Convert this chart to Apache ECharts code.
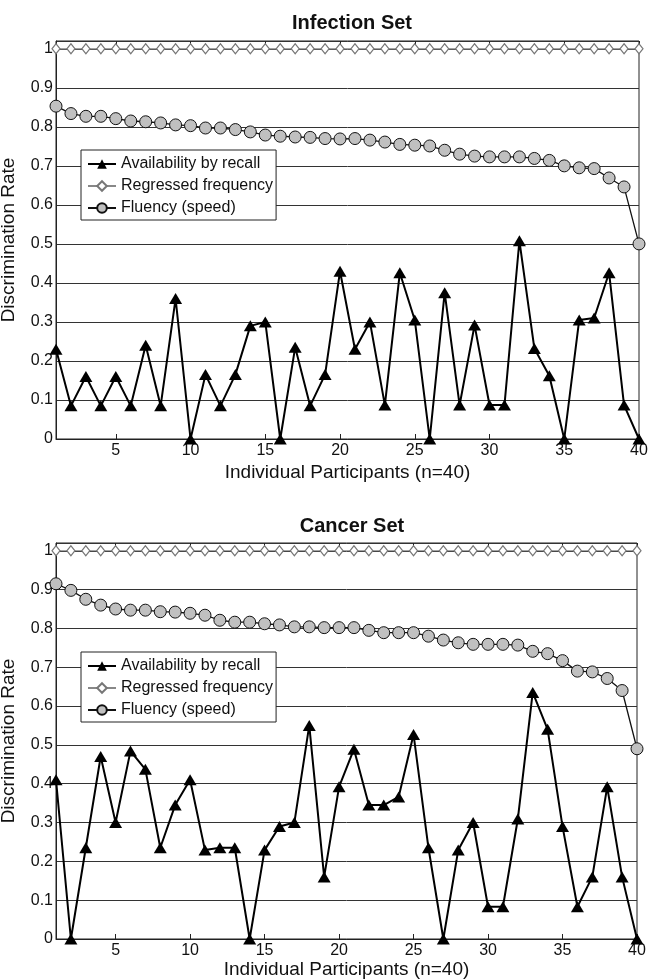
<!DOCTYPE html>
<html>
<head>
<meta charset="utf-8">
<script src="https://cdn.jsdelivr.net/npm/echarts@6/dist/echarts.min.js"></script>
<style>
html,body{margin:0;padding:0;background:#fff;}
#chart{width:648px;height:979px;}
</style>
</head>
<body>
<div id="chart"></div>
<script>
// ---- data ----
const participants = [1,2,3,4,5,6,7,8,9,10,11,12,13,14,15,16,17,18,19,20,21,22,23,24,25,26,27,28,29,30,31,32,33,34,35,36,37,38,39,40];
const xTickValues = [5,10,15,20,25,30,35,40];
const seriesNames = ['Availability by recall','Regressed frequency','Fluency (speed)'];
const titles = ['Infection Set','Cancer Set'];

const infectionRecall = [0.23,0.085,0.16,0.085,0.16,0.085,0.24,0.085,0.36,0,
  0.165,0.085,0.165,0.29,0.30,0,0.235,0.085,0.165,0.43,
  0.23,0.30,0.087,0.426,0.305,0,0.375,0.087,0.292,0.087,
  0.087,0.508,0.232,0.162,0,0.305,0.31,0.426,0.087,0];
const infectionRegressed = [1,1,1,1,1,1,1,1,1,1,1,1,1,1,1,1,1,1,1,1,1,1,1,1,1,1,1,1,1,1,1,1,1,1,1,1,1,1,1,1];
const infectionFluency = [0.853,0.834,0.827,0.827,0.821,0.815,0.813,0.81,0.805,0.803,
  0.797,0.797,0.793,0.787,0.779,0.776,0.774,0.773,0.77,0.769,
  0.77,0.766,0.761,0.755,0.753,0.751,0.74,0.73,0.725,0.723,
  0.723,0.723,0.719,0.714,0.70,0.695,0.693,0.669,0.646,0.50];

const cancerRecall = [0.41,0,0.235,0.47,0.30,0.484,0.437,0.235,0.345,0.41,
  0.229,0.235,0.235,0,0.229,0.29,0.30,0.55,0.16,0.392,
  0.489,0.345,0.345,0.366,0.527,0.235,0,0.229,0.30,0.083,
  0.083,0.309,0.635,0.54,0.29,0.083,0.16,0.392,0.16,0];
const cancerRegressed = [1,1,1,1,1,1,1,1,1,1,1,1,1,1,1,1,1,1,1,1,1,1,1,1,1,1,1,1,1,1,1,1,1,1,1,1,1,1,1,1];
const cancerFluency = [0.915,0.898,0.875,0.86,0.85,0.847,0.847,0.843,0.842,0.839,
  0.834,0.821,0.816,0.816,0.812,0.809,0.804,0.804,0.802,0.802,
  0.802,0.795,0.789,0.789,0.789,0.78,0.77,0.763,0.759,0.759,
  0.759,0.757,0.741,0.735,0.717,0.69,0.688,0.671,0.64,0.49];

const panels = [
  {recall: infectionRecall, regressed: infectionRegressed, fluency: infectionFluency},
  {recall: cancerRecall, regressed: cancerRegressed, fluency: cancerFluency}
];

// ---- layout ----
const FONT = "'Liberation Sans', Arial, Helvetica, sans-serif";
const grids = [
  {left: 56, top: 41, width: 583, height: 398},
  {left: 56, top: 543, width: 581, height: 396}
];
const titleTops = [8, 511];
const legendTops = [150, 652];
const xNameGaps = [24, 20];

function pairs(arr){ return participants.map((p,i)=>[p, arr[i]]); }

const option = {
  animation: false,
  backgroundColor: '#fff',
  textStyle: {fontFamily: FONT},
  title: titles.map((t,i)=>({
    text: t, left: 347, top: titleTops[i], textAlign: 'center',
    textStyle: {fontFamily: FONT, fontSize: 20, fontWeight: 'bold', color: '#111'}
  })),
  grid: grids.map(g=>Object.assign({show: true, borderColor: '#222', borderWidth: 1, backgroundColor: 'transparent', outerBoundsMode: 'none', containLabel: false}, g)),
  legend: legendTops.map((top,i)=>({
    show: true, orient: 'vertical', left: 81, top: top,
    data: seriesNames,
    itemWidth: 28, itemHeight: 12, itemGap: 6,
    padding: [6, 3, 4, 6],
    borderColor: '#222', borderWidth: 1, backgroundColor: '#fff',
    textStyle: {fontFamily: FONT, fontSize: 16, color: '#111', lineHeight: 16},
    selectedMode: false
  })),
  xAxis: [0,1].flatMap(i=>[
    {
      type: 'value', gridIndex: i, min: 1, max: 40,
      name: 'Individual Participants (n=40)', nameLocation: 'middle', nameGap: xNameGaps[i],
      nameTextStyle: {fontFamily: FONT, fontSize: 19, color: '#111'},
      axisLine: {show: true, lineStyle: {color: '#222', width: 1}},
      axisTick: {show: true, inside: true, length: 5, customValues: xTickValues, lineStyle: {color: '#222'}},
      axisLabel: {show: true, customValues: xTickValues, fontFamily: FONT, fontSize: 16, color: '#111', margin: 4},
      splitLine: {show: false}
    },
    {
      type: 'value', gridIndex: i, min: 1, max: 40, position: 'top',
      axisLine: {show: false},
      axisTick: {show: true, inside: true, length: 5, customValues: xTickValues, lineStyle: {color: '#222'}},
      axisLabel: {show: false},
      splitLine: {show: false}
    }
  ]),
  yAxis: [0,1].map(i=>({
    type: 'value', gridIndex: i, min: 0, max: 1.02, interval: 0.1,
    name: 'Discrimination Rate', nameLocation: 'middle', nameGap: 38,
    nameTextStyle: {fontFamily: FONT, fontSize: 19, color: '#111'},
    axisLine: {show: true, lineStyle: {color: '#222'}},
    axisTick: {show: false},
    axisLabel: {
      fontFamily: FONT, fontSize: 16, color: '#111', margin: 3, showMaxLabel: false,
      formatter: v => (v > 1.01 ? '' : String(Math.round(v*10)/10))
    },
    splitLine: {show: true, lineStyle: {color: '#333', width: 1}}
  })),
  series: panels.flatMap((p,i)=>[
    {
      name: seriesNames[0], type: 'line', xAxisIndex: i*2, yAxisIndex: i,
      data: pairs(p.recall), symbol: 'triangle', symbolSize: [13, 11],
      lineStyle: {color: '#000', width: 2}, itemStyle: {color: '#000', borderColor: '#000', borderWidth: 0},
      z: 5, clip: false
    },
    {
      name: seriesNames[1], type: 'line', xAxisIndex: i*2, yAxisIndex: i,
      data: pairs(p.regressed), symbol: 'diamond', symbolSize: [8, 10],
      lineStyle: {color: '#888', width: 1.2}, itemStyle: {color: '#fff', borderColor: '#777', borderWidth: 1.2},
      z: 3, clip: false
    },
    {
      name: seriesNames[2], type: 'line', xAxisIndex: i*2, yAxisIndex: i,
      data: pairs(p.fluency), symbol: 'circle', symbolSize: 12,
      lineStyle: {color: '#111', width: 1.3}, itemStyle: {color: '#c0c0c0', borderColor: '#111', borderWidth: 1},
      z: 4, clip: false
    }
  ])
};

const chart = echarts.init(document.getElementById('chart'), null, {renderer: 'canvas'});
chart.setOption(option);
</script>
</body>
</html>
